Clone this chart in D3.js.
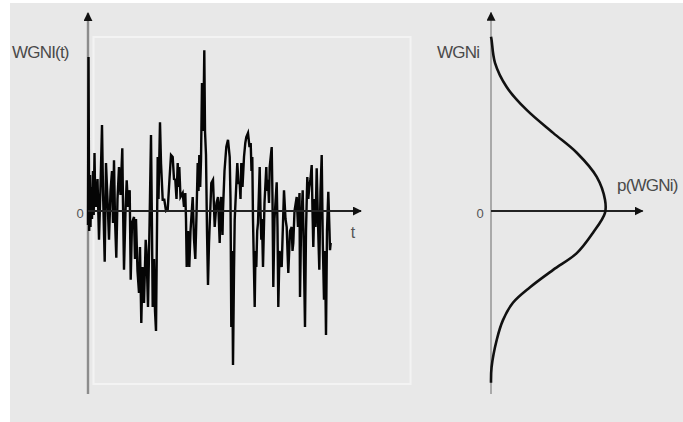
<!DOCTYPE html>
<html>
<head>
<meta charset="utf-8">
<script src="https://cdn.jsdelivr.net/npm/d3@7"></script>
<style>
  body { margin: 0; background: #fff; }
  svg { display: block; font-family: "Liberation Sans", Arial, sans-serif; }
</style>
</head>
<body>
<div class="svg-container"></div>
<script>
// noise sample times (px-like units along t) and values
const noiseT = [0,0.5,1.2,2,2.5,3,4,5,5.7,6.5,7.2,8,9.5,11,12.5,14,15,16.7,18,19.5,21,22.5,24,25,26,27,28.3,29.5,31,32.5,34.3,35,36,37.5,38.7,40,41.7,42.7,44,46,47,48,49.5,51,52,53.3,54.5,56,57.7,58.5,60,61.5,63,64,64.7,66,67,68,69.7,70.5,72,73,74.7,76.3,78,79.7,81.5,83,84.7,86,87.3,88.5,89.7,90.5,91.3,92.5,94.7,96,97.3,98,98.7,100,101.3,102.5,104.7,106,107.3,108.5,109.7,110.5,111.3,112.2,113,114,115.3,116.3,117,118,119,120,121,123.3,125,126.7,128.5,130,131.7,132.5,133.3,134.5,135,136.5,138.3,140,141.7,142.5,143.3,144.2,145,146,146.7,148,149.3,150.5,151.7,152.5,153.3,154.5,156,157.3,158.3,160,161.5,162.7,163.5,164.3,165,166.7,167.5,168.3,169.2,170,171.7,172.5,173.3,174,175,176.5,178.3,179,180,181,181.7,183.7,184.5,185.3,186.5,188.7,189.5,190.3,191.5,193.7,195,196,197.5,198.7,199.5,200.3,202,203.7,204.5,205.3,206.5,208.7,210,211.5,212,213,214.7,215.8,217,218,219.3,220.3,221.3,222.5,223.7,224.5,225.3,226.5,227.5,228.7,230,231.3,232.5,233.7,234.8,236,237,238,239,240.3,241.5,242,242.7];
const noiseV = [-0.35,3.85,-0.5,0.9,-0.4,0.6,-0.2,1.0,-0.1,1.45,0.3,0.1,0.8,-0.72,0.6,2.15,0.5,-1.27,1.2,0.3,-0.72,0.5,1.0,-0.3,1.27,-0.2,-1.17,0.3,1.1,0.4,1.57,0.2,-1.47,0.0,0.77,0.1,0.52,-1.72,-0.3,-0.15,-1.2,-0.2,-1.5,-2.05,-0.9,-2.8,-1.4,-2.3,-0.72,-1.0,-2.4,-0.4,1.9,-0.5,-2.4,-1.2,-2.5,-3.0,1.35,0.3,2.22,1.2,0.28,0.28,0.0,0.03,0.8,1.4,1.35,0.8,0.78,0.3,1.2,0.6,1.1,0.35,0.45,0.1,0.45,-0.2,-1.4,-0.5,-1.4,-0.5,0.35,-0.7,-1.2,-0.1,1.2,0.5,1.4,0.6,1.27,3.2,2.0,4.02,2.0,1.4,-0.5,-1.85,-0.8,0.7,0.78,-0.4,0.2,0.35,-0.8,0.2,0.35,-0.6,0.02,1.0,1.6,1.78,1.35,0.3,-2.9,-1.0,-3.85,-1.5,-0.22,0.5,1.2,0.7,0.7,0.3,1.2,0.6,1.35,1.7,1.85,1.95,1.6,1.7,1.0,1.35,-0.22,-2.4,-1.0,-1.4,-0.5,-0.3,1.1,0.0,-0.72,-0.2,-1.4,0.2,1.1,0.5,0.78,0.2,1.1,1.6,0.3,-1.9,-0.2,0.72,-0.4,-2.4,-1.0,-1.4,-0.3,0.52,-0.2,-0.4,-1.0,-1.55,-0.5,-0.4,-1.0,-0.8,0.0,0.35,-0.4,0.45,-2.15,-0.5,0.52,-1.0,-2.9,-0.5,0.85,0.3,0.6,0.8,1.15,0.0,-0.9,0.3,-0.4,1.07,-0.3,-1.47,0.5,1.4,-0.8,-2.22,-1.0,-3.1,-0.5,0.48,-0.5,-0.98,-0.8];

// distribution curve: value (in sigma) and density
const wgnLevels = [2.81,2.76,2.39,2.0,1.63,1.26,0.94,0.55,0.18,-0.03,-0.35,-0.68,-0.95,-1.23,-1.48,-1.76,-2.08,-2.52,-2.77];
const wgnDensity = [0.0,0.002,0.014,0.055,0.125,0.218,0.301,0.371,0.4,0.4,0.358,0.301,0.218,0.137,0.077,0.042,0.02,0.002,0.0];

const labels = {signalY: "WGNI(t)", signalX: "t", distY: "WGNi", distX: "p(WGNi)", zero: "0"};

const width = 683, height = 422;
const svg = d3.select(".svg-container").append("svg")
  .attr("width", width)
  .attr("height", height);

svg.append("defs").append("marker")
  .attr("id", "arrow")
  .attr("viewBox", "0 0 10 10")
  .attr("refX", 9).attr("refY", 5)
  .attr("markerWidth", 9).attr("markerHeight", 9)
  .attr("markerUnits", "userSpaceOnUse")
  .attr("orient", "auto")
  .append("path")
  .attr("d", "M0,0L10,5L0,10Z")
  .attr("fill", "#111");

// panel background
svg.append("rect").attr("x", 0).attr("y", 0).attr("width", width).attr("height", height).attr("fill", "#fff");
svg.append("rect").attr("x", 10).attr("y", 3).attr("width", width - 10).attr("height", height - 3).attr("fill", "#e8e8e8");
svg.append("rect")
  .attr("x", 93.5).attr("y", 37).attr("width", 317).attr("height", 347)
  .attr("fill", "none").attr("stroke", "#f3f3f3").attr("stroke-width", 2);

// ---- left panel: noise over time
const tScale = d3.scaleLinear().domain([0, 273]).range([88, 361]);
const vScale = d3.scaleLinear().domain([-4, 4]).range([371, 51]);

svg.append("line")
  .attr("x1", tScale(0)).attr("x2", tScale(0))
  .attr("y1", vScale(-4.575)).attr("y2", vScale(4.95))
  .attr("stroke", "#8c8c8c").attr("stroke-width", 2.4)
  .attr("marker-end", "url(#arrow)");

const noise = noiseT.map((t, i) => [t, noiseV[i]]);
svg.append("path")
  .datum(noise)
  .attr("fill", "none")
  .attr("stroke", "#050505")
  .attr("stroke-width", 2.4)
  .attr("stroke-linejoin", "miter")
  .attr("d", d3.line().x(d => tScale(d[0])).y(d => vScale(d[1])));

svg.append("line")
  .attr("x1", tScale(0)).attr("x2", tScale(273))
  .attr("y1", vScale(0)).attr("y2", vScale(0))
  .attr("stroke", "#222").attr("stroke-width", 2)
  .attr("marker-end", "url(#arrow)");

svg.append("text").attr("x", 12).attr("y", 58)
  .style("font-size", "17px").attr("fill", "#4a4a4a").attr("letter-spacing", "-0.8")
  .text(labels.signalY);
svg.append("text").attr("x", 80).attr("y", 218)
  .style("font-size", "13px").attr("fill", "#555").attr("text-anchor", "middle")
  .text(labels.zero);
svg.append("text").attr("x", 353).attr("y", 238)
  .style("font-size", "16px").attr("fill", "#555").attr("text-anchor", "middle")
  .text(labels.signalX);

// ---- right panel: distribution
const pScale = d3.scaleLinear().domain([0, 0.4]).range([491, 605]);
const wScale = d3.scaleLinear().domain([-3, 3]).range([397, 25]);

svg.append("line")
  .attr("x1", pScale(0)).attr("x2", pScale(0))
  .attr("y1", wScale(-2.95)).attr("y2", wScale(3.2))
  .attr("stroke", "#999").attr("stroke-width", 1.6)
  .attr("marker-end", "url(#arrow)");

svg.append("line")
  .attr("x1", pScale(0)).attr("x2", pScale(0.532))
  .attr("y1", wScale(0)).attr("y2", wScale(0))
  .attr("stroke", "#222").attr("stroke-width", 2)
  .attr("marker-end", "url(#arrow)");

const dist = wgnLevels.map((w, i) => [wgnDensity[i], w]);
svg.append("path")
  .datum(dist)
  .attr("fill", "none")
  .attr("stroke", "#111")
  .attr("stroke-width", 2.6)
  .attr("d", d3.line().curve(d3.curveCatmullRom).x(d => pScale(d[0])).y(d => wScale(d[1])));

svg.append("text").attr("x", 437).attr("y", 58)
  .style("font-size", "17px").attr("fill", "#4a4a4a").attr("letter-spacing", "-0.8")
  .text(labels.distY);
svg.append("text").attr("x", 480).attr("y", 218)
  .style("font-size", "13px").attr("fill", "#555").attr("text-anchor", "middle")
  .text(labels.zero);
svg.append("text").attr("x", 617).attr("y", 191)
  .style("font-size", "17px").attr("fill", "#4a4a4a").attr("letter-spacing", "-0.8")
  .text(labels.distX);
</script>
</body>
</html>
